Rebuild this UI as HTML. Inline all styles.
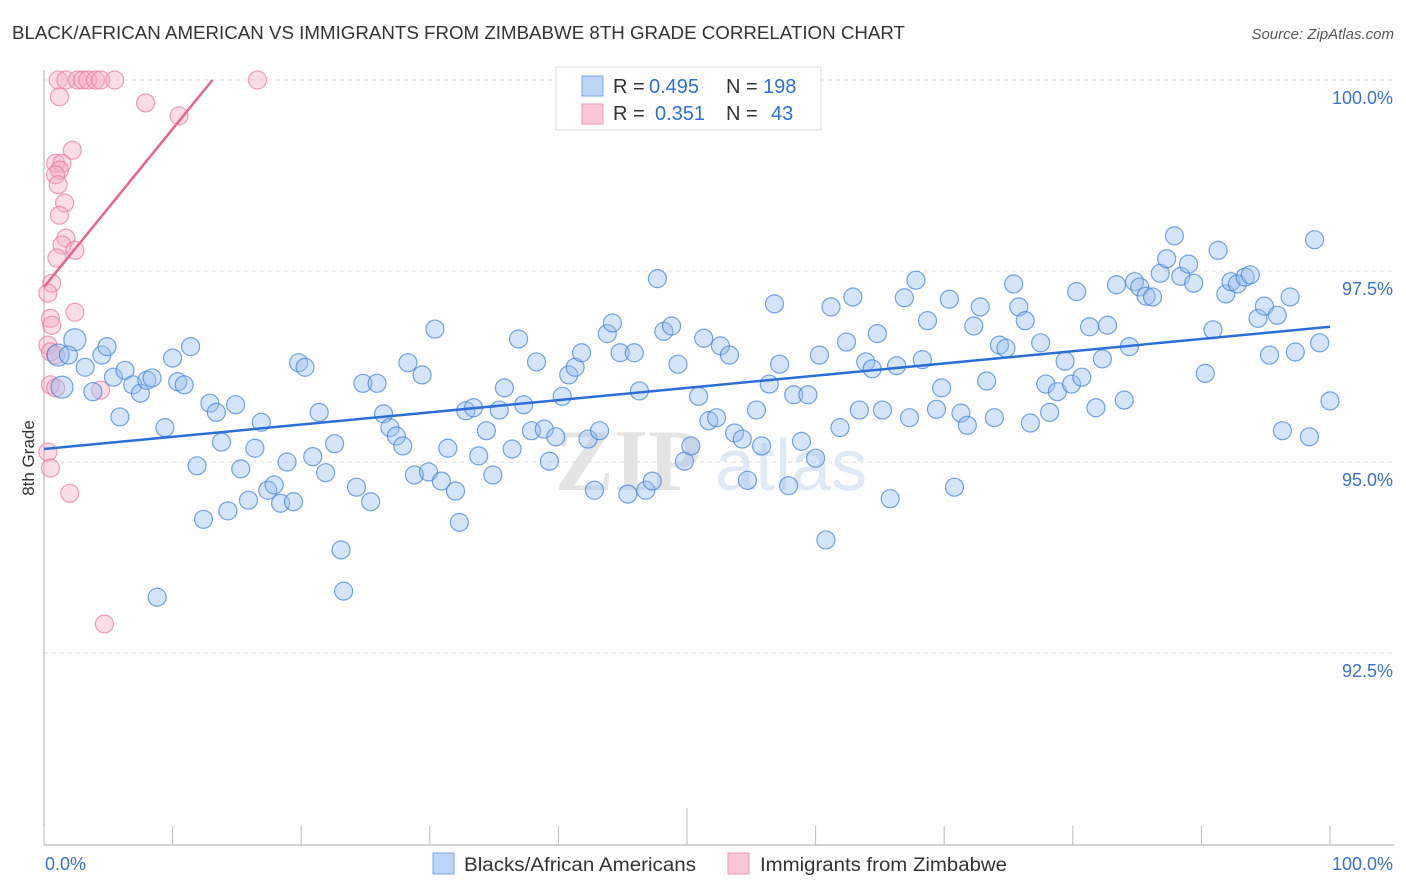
<!DOCTYPE html>
<html><head><meta charset="utf-8"><style>
body{margin:0;background:#fff;font-family:"Liberation Sans",sans-serif;}
svg{display:block}
</style></head><body>
<svg id="chart" width="1406" height="892" viewBox="0 0 1406 892">
<text x="12" y="39" font-size="18" fill="#333" textLength="893" lengthAdjust="spacingAndGlyphs">BLACK/AFRICAN AMERICAN VS IMMIGRANTS FROM ZIMBABWE 8TH GRADE CORRELATION CHART</text>
<text x="1394" y="39" font-size="15" fill="#555" font-style="italic" text-anchor="end">Source: ZipAtlas.com</text>
<g id="grid"></g>
<g>
<text x="555" y="490" font-size="88" font-family="Liberation Serif,serif" fill="#e4e4e4" font-weight="bold">ZIP</text>
<text x="715" y="490" font-size="72" fill="#dfe8f5">atlas</text>
</g>
<g id="axes"></g>
<g id="pink"></g>
<g id="blue"></g>
<g id="lines"></g>
<text x="34" y="458" font-size="17" fill="#333" transform="rotate(-90 34 458)" text-anchor="middle">8th Grade</text>
<text x="45" y="870" font-size="18" fill="#3a70d0">0.0%</text>
<text x="1393" y="870" font-size="18" fill="#3a70d0" text-anchor="end">100.0%</text>
<g>
<rect x="556" y="67" width="265" height="63" fill="#fff" stroke="#ddd"/>
<rect x="582" y="76" width="21" height="20" fill="#bcd4f6" stroke="#7aa6e6"/>
<rect x="582" y="104" width="21" height="20" fill="#f9c6d5" stroke="#ec9ab4"/>
<text x="613" y="93" font-size="20" fill="#333">R =</text>
<text x="649" y="93" font-size="20" fill="#2f6fd6">0.495</text>
<text x="726" y="93" font-size="20" fill="#333">N =</text>
<text x="763" y="93" font-size="20" fill="#2f6fd6">198</text>
<text x="613" y="120" font-size="20" fill="#333">R =</text>
<text x="655" y="120" font-size="20" fill="#2f6fd6">0.351</text>
<text x="726" y="120" font-size="20" fill="#333">N =</text>
<text x="771" y="120" font-size="20" fill="#2f6fd6">43</text>
</g>
<g>
<rect x="433" y="853" width="21" height="21" fill="#bcd4f6" stroke="#7aa6e6"/>
<text x="464" y="871" font-size="19" fill="#333" textLength="232" lengthAdjust="spacingAndGlyphs">Blacks/African Americans</text>
<rect x="728" y="853" width="21" height="21" fill="#f9c6d5" stroke="#ec9ab4"/>
<text x="760" y="871" font-size="19" fill="#333" textLength="247" lengthAdjust="spacingAndGlyphs">Immigrants from Zimbabwe</text>
</g>
</svg>
<script>
const yTicks=[100,97.5,95,92.5];
const yTickLabels=["100.0%","97.5%","95.0%","92.5%"];
const blueX=[1.1,1.4,2.4,1.9,3.2,3.8,4.5,4.9,5.4,5.9,6.3,6.9,7.5,8.0,8.4,8.8,9.4,10.0,10.4,10.9,11.4,11.9,12.4,12.9,13.4,13.8,14.3,14.9,15.3,15.9,16.4,16.9,17.4,17.9,18.4,18.9,19.4,19.8,20.3,20.9,21.4,21.9,22.6,23.1,23.3,24.3,24.8,25.4,25.9,26.4,26.9,27.4,27.9,28.3,28.8,29.4,29.9,30.4,30.9,31.4,32.0,32.3,32.8,33.4,33.8,34.4,34.9,35.4,35.8,36.4,36.9,37.3,37.9,38.3,38.9,39.3,39.8,40.3,40.8,41.3,41.8,42.3,42.8,43.2,43.8,44.2,44.8,45.4,45.9,46.3,46.8,47.3,47.7,48.2,48.8,49.3,49.8,50.3,50.9,51.3,51.7,52.3,52.6,53.3,53.7,54.3,54.7,55.4,55.8,56.4,56.8,57.2,57.9,58.3,58.9,59.4,60.0,60.3,60.8,61.2,61.9,62.4,62.9,63.4,63.9,64.4,64.8,65.2,65.8,66.3,66.9,67.3,67.8,68.3,68.7,69.4,69.8,70.4,70.8,71.3,71.8,72.3,72.8,73.3,73.9,74.3,74.8,75.4,75.8,76.3,76.7,77.5,77.9,78.2,78.8,79.4,79.9,80.3,80.7,81.3,81.8,82.3,82.7,83.4,84.0,84.4,84.8,85.2,85.7,86.2,86.8,87.3,87.9,88.4,89.0,89.4,90.3,90.9,91.3,91.9,92.3,92.8,93.4,93.8,94.4,94.9,95.3,95.9,96.3,96.9,97.3,98.4,98.8,99.2,100.0];
const blueY=[96.40,95.98,96.60,96.40,96.24,95.92,96.40,96.51,96.11,95.59,96.20,96.01,95.90,96.07,96.10,93.23,95.45,96.36,96.05,96.01,96.51,94.95,94.25,95.77,95.65,95.26,94.36,95.75,94.91,94.50,95.18,95.52,94.63,94.70,94.46,95.00,94.48,96.30,96.24,95.07,95.65,94.86,95.24,93.85,93.31,94.67,96.03,94.48,96.03,95.63,95.45,95.34,95.21,96.30,94.83,96.14,94.87,96.74,94.75,95.18,94.62,94.21,95.67,95.71,95.08,95.41,94.83,95.68,95.97,95.17,96.61,95.75,95.41,96.31,95.43,95.01,95.33,95.86,96.14,96.24,96.43,95.30,94.63,95.41,96.68,96.82,96.43,94.58,96.43,95.93,94.63,94.75,97.40,96.71,96.78,96.28,95.01,95.21,95.86,96.62,95.54,95.58,96.52,96.40,95.38,95.30,94.76,95.68,95.21,96.02,97.07,96.28,94.69,95.88,95.27,95.88,95.05,96.40,93.98,97.03,95.45,96.57,97.16,95.68,96.31,96.22,96.68,95.68,94.52,96.26,97.15,95.58,97.38,96.34,96.85,95.69,95.97,97.13,94.67,95.64,95.48,96.78,97.03,96.06,95.58,96.53,96.49,97.33,97.03,96.85,95.51,96.56,96.02,95.65,95.92,96.32,96.02,97.23,96.11,96.77,95.71,96.35,96.79,97.32,95.81,96.51,97.36,97.29,97.17,97.16,97.47,97.66,97.96,97.43,97.59,97.34,96.16,96.73,97.77,97.20,97.36,97.33,97.42,97.45,96.88,97.04,96.40,96.92,95.41,97.16,96.44,95.33,97.91,96.56,95.80];
const pinkX=[1.1,1.7,2.6,3.0,3.4,4.0,4.4,5.5,16.6,1.2,7.9,10.5,2.2,0.9,1.4,1.2,0.9,1.1,1.6,1.2,1.7,1.4,2.4,1.0,0.6,0.3,2.4,0.5,0.6,0.3,0.5,0.9,0.5,0.9,4.4,0.3,0.5,2.0,4.7];
const pinkY=[100,100,100,100,100,100,100,100,100,99.78,99.70,99.53,99.08,98.91,98.91,98.82,98.76,98.63,98.39,98.23,97.93,97.84,97.77,97.67,97.34,97.21,96.96,96.88,96.79,96.53,96.44,96.40,96.01,95.97,95.94,95.13,94.92,94.59,92.88];
const blueTrend=[95.17,96.77]; // y at x=0 and x=100
const pinkTrend=[97.29,100]; const pinkTrendEnd=13.1;

const NS="http://www.w3.org/2000/svg";
const X=v=>44+v*12.86;
const Y=v=>80+(100-v)*76.4;
function mk(tag,attrs,parent){const e=document.createElementNS(NS,tag);for(const k in attrs)e.setAttribute(k,attrs[k]);parent.appendChild(e);return e;}
const grid=document.getElementById('grid'),axes=document.getElementById('axes');
yTicks.forEach((t,i)=>{
 const l=mk('line',{x1:44,x2:1394,y1:Y(t),y2:Y(t),stroke:'#ddd','stroke-dasharray':'4,4'},grid);
 
 
 const tx=mk('text',{x:1393,y:Y(t)+24,'font-size':18,fill:'#3a70d0','text-anchor':'end'},grid);
 tx.textContent=yTickLabels[i];
 
 
});
let a=mk('line',{x1:44,x2:44,y1:70,y2:845,stroke:'#aaa'},axes);


a=mk('line',{x1:44,x2:1394,y1:845,y2:845,stroke:'#aaa'},axes);


for(let i=0;i<=10;i++){
 const t=mk('line',{x1:X(i*10),x2:X(i*10),y1:i==5?808:826,y2:845,stroke:'#bbb'},axes);
 
 
}
const pg=document.getElementById('pink'),bg=document.getElementById('blue');
pinkX.forEach((x,i)=>{
 const c=mk('circle',{cx:X(x),cy:Y(pinkY[i]),r:9,fill:'rgba(246,170,195,0.4)',stroke:'rgba(232,120,155,0.7)','stroke-width':1.2},pg);
 
 
});
blueX.forEach((x,i)=>{
 const c=mk('circle',{cx:X(x),cy:Y(blueY[i]),r:i<3?11:9,fill:'rgba(150,190,240,0.4)',stroke:'rgba(60,125,215,0.7)','stroke-width':1.2},bg);
 
 
});
const lg=document.getElementById('lines');
let ln=mk('line',{x1:X(0),y1:Y(blueTrend[0]),x2:X(100),y2:Y(blueTrend[1]),stroke:'#2a6fd8','stroke-width':2.5},lg);


ln=mk('line',{x1:X(0),y1:Y(pinkTrend[0]),x2:X(pinkTrendEnd),y2:Y(pinkTrend[1]),stroke:'#e8638f','stroke-width':2.5},lg);


</script>
</body></html>
